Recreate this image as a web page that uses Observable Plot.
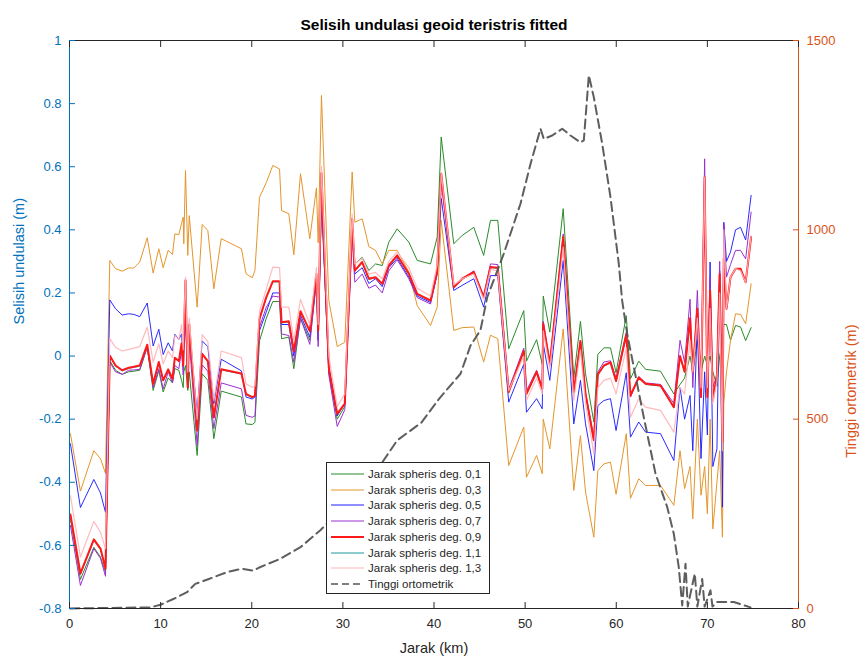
<!DOCTYPE html>
<html><head><meta charset="utf-8">
<script src="https://cdn.jsdelivr.net/npm/d3@7"></script>
<script src="https://cdn.jsdelivr.net/npm/@observablehq/plot@0.6"></script>
<style>
body{margin:0;background:#fff;font-family:"Liberation Sans",Arial,sans-serif;}
#wrap{position:relative;width:866px;height:659px;}
#legend{position:absolute;left:326px;top:462px;width:164px;height:132px;border:1px solid #262626;background:#fff;box-sizing:border-box;}
#legend .row{position:absolute;left:0;height:14px;display:flex;align-items:center;font-size:11.5px;color:#262626;white-space:nowrap;}
#legend svg{margin-left:4px;margin-right:4px;}
</style></head><body><div id="wrap"><div id="legend"></div></div>
<script>
const jarak = [0.1,1.2,2.67,3.4,3.95,4.42,5.05,5.78,6.5,7.06,7.71,8.53,9.18,9.8,10.28,10.83,11.3,11.56,12.0,12.3,12.48,12.54,12.73,12.98,13.14,14.01,14.56,15.18,15.84,16.65,18.87,19.37,20.05,20.35,20.85,21.6,22.31,23.05,23.27,24.07,24.62,25.35,26.37,27.1,27.29,27.65,28.46,29.38,30.21,31.02,31.31,32.12,32.85,33.58,34.32,35.04,35.96,37.24,38.16,39.62,40.35,40.79,42.17,43.09,44.37,45.45,46.2,47.0,48.2,49.85,50.15,51.26,51.88,51.99,52.71,54.18,55.34,56.07,56.63,57.54,57.98,58.64,59.37,59.98,61.1,61.56,62.47,63.21,64.86,66.32,67.0,67.5,68.1,68.4,68.9,69.3,69.7,70.0,70.3,70.6,71.05,71.35,71.65,71.8,72.1,72.54,73.09,73.64,74.2,74.8];

const deg01 = [-0.515,-0.708,-0.606,-0.637,-0.685, -0.014,-0.045,-0.058,-0.05,-0.048, -0.045,0.028,-0.109,-0.046,-0.114, -0.069,-0.085,-0.04,-0.045,-0.077, -0.1,-0.05,-0.03,-0.109,-0.05, -0.315,-0.056,-0.077,-0.262,-0.111, -0.13,-0.215,-0.217,-0.21,0.048, 0.12,0.173,0.173,0.055,0.06, -0.04,0.12,0.05,0.24,0.05, 0.5,-0.05,-0.2,-0.16,0.42, 0.292,0.313,0.271,0.292,0.287, 0.361,0.403,0.361,0.303,0.292, 0.377,0.694,0.356,0.382,0.408, 0.319,0.43,0.43,0.023,0.144, -0.016,0.052,-0.026,0.19,0.076, 0.467,-0.069,0.11,-0.056,-0.209, 0.005,0.026,0.026,-0.053,0.128, -0.072,-0.016,-0.042,-0.048,-0.12, -0.09,-0.07,0.0,-0.05,0.05, -0.05,0.0,-0.03,0.0,-0.05, -0.095,0.0,0.05,0.1,0.1, 0.05,0.097,0.092,0.049,0.09];
const deg03 = [-0.246,-0.428,-0.30,-0.325,-0.372, 0.303,0.277,0.269,0.279,0.279, 0.298,0.375,0.263,0.34,0.28, 0.335,0.322,0.387,0.385,0.421, 0.44,0.356,0.588,0.319,0.445, 0.155,0.417,0.398,0.213,0.372, 0.34,0.261,0.248,0.271,0.503, 0.55,0.604,0.593,0.461,0.451, 0.321,0.578,0.372,0.533,0.359, 0.826,0.176,0.03,0.044,0.583, 0.424,0.435,0.347,0.335,0.292, 0.335,0.335,0.266,0.16,0.097, 0.155,0.43,0.081,0.09,0.092, -0.019,0.066,0.055,-0.347,-0.225, -0.384,-0.315,-0.373,-0.2,-0.294, 0.086,-0.426,-0.252,-0.431,-0.574, -0.363,-0.342,-0.336,-0.438,-0.246, -0.451,-0.389,-0.41,-0.41,-0.473, -0.3,-0.42,-0.35,-0.516,-0.2, -0.441,-0.35,-0.5,-0.2,-0.548, -0.4,-0.3,-0.574,-0.15,-0.05, 0.05,0.134,0.132,0.102,0.229];
const deg05 = [-0.278,-0.48,-0.391,-0.434,-0.495, 0.178,0.15,0.13,0.134,0.132, 0.125,0.168,0.032,0.085,0.005, 0.042,0.016,0.069,0.053,0.07, -0.02,0.03,0.1,-0.03,0.08, -0.18,0.048,0.03,-0.151,-0.01, -0.047,-0.13,-0.136,-0.13,0.08, 0.14,0.2,0.2,0.1,0.1, 0.0,0.13,0.06,0.24,0.05, 0.5,-0.05,-0.19,-0.15,0.4, 0.26,0.28,0.23,0.245,0.22, 0.28,0.31,0.25,0.19,0.17, 0.26,0.5,0.208,0.224,0.245, 0.155,0.255,0.255,-0.146,-0.026, -0.178,-0.135,-0.167,0.039,-0.077, 0.303,-0.215,-0.077,-0.215,-0.363, -0.157,-0.141,-0.135,-0.236,-0.053, -0.257,-0.209,-0.241,-0.246,-0.331, -0.1,-0.2,-0.125,-0.3,0.1, -0.325,-0.05,-0.25,0.298,-0.35, -0.294,0.27,-0.479,0.424,0.3, 0.33,0.4,0.408,0.368,0.509];
const deg07 = [-0.537,-0.727,-0.61,-0.641,-0.698, -0.019,-0.05,-0.058,-0.045,-0.044, -0.042,0.028,-0.1,-0.04,-0.104, -0.05,-0.085,-0.03,-0.04,0.02, -0.06,0.0,0.15,-0.1,0.05, -0.284,-0.028,-0.048,-0.23,-0.085, -0.104,-0.188,-0.194,-0.19,0.092, 0.155,0.19,0.187,0.07,0.065, -0.02,0.12,0.037,0.24,0.03, 0.52,-0.06,-0.223,-0.17,0.38, 0.234,0.26,0.215,0.225,0.2, 0.27,0.305,0.245,0.185,0.165, 0.26,0.55,0.22,0.245,0.27, 0.19,0.292,0.29,-0.105,0.025, -0.11,-0.045,-0.1,0.11,-0.02, 0.387,-0.11,0.05,-0.115,-0.257, -0.05,-0.019,-0.015,-0.07,0.075, -0.13,-0.065,-0.085,-0.09,-0.15, 0.05,-0.02,0.18,-0.1,0.208, -0.1,0.625,-0.1,0.25,-0.1, -0.06,0.3,-0.2,0.42,0.25, 0.29,0.335,0.335,0.308,0.456];
const deg09 = [-0.502,-0.689,-0.581,-0.61,-0.673, 0.002,-0.03,-0.045,-0.037,-0.034, -0.03,0.036,-0.088,-0.019,-0.077, -0.042,-0.072,-0.005,-0.016,0.04, -0.03,0.05,0.24,-0.1,0.1, -0.236,0.007,-0.016,-0.194,-0.042, -0.055,-0.12,-0.13,-0.125,0.118, 0.187,0.237,0.237,0.107,0.11, 0.016,0.142,0.079,0.26,0.08, 0.58,-0.037,-0.183,-0.151,0.435, 0.271,0.298,0.245,0.25,0.229, 0.287,0.319,0.261,0.197,0.176, 0.27,0.578,0.218,0.245,0.266, 0.187,0.282,0.28,-0.114,0.016, -0.12,-0.05,-0.104,0.102,-0.026, 0.377,-0.114,0.048,-0.12,-0.267, -0.058,-0.03,-0.02,-0.079,0.068, -0.125,-0.068,-0.088,-0.093,-0.162, 0.0,-0.05,0.12,-0.05,0.15, -0.13,0.567,-0.13,0.208,-0.14, -0.06,0.26,-0.27,0.31,0.15, 0.25,0.277,0.277,0.234,0.377];
const deg11 = [-0.505,-0.692,-0.584,-0.613,-0.676, 0.0,-0.032,-0.047,-0.039,-0.036, -0.032,0.034,-0.09,-0.021,-0.079, -0.044,-0.074,-0.007,-0.018,0.038, -0.032,0.048,0.238,-0.102,0.098, -0.238,0.005,-0.018,-0.196,-0.044, -0.057,-0.122,-0.132,-0.127,0.116, 0.185,0.235,0.235,0.105,0.108, 0.014,0.14,0.077,0.258,0.078, 0.578,-0.039,-0.185,-0.153,0.433, 0.269,0.296,0.243,0.248,0.227, 0.285,0.317,0.259,0.195,0.174, 0.268,0.576,0.216,0.243,0.264, 0.185,0.28,0.278,-0.116,0.014, -0.122,-0.052,-0.106,0.1,-0.028, 0.375,-0.116,0.046,-0.122,-0.269, -0.06,-0.032,-0.022,-0.081,0.066, -0.127,-0.07,-0.09,-0.095,-0.164, -0.002,-0.052,0.118,-0.052,0.148, -0.132,0.565,-0.132,0.206,-0.142, -0.062,0.258,-0.272,0.308,0.148, 0.248,0.275,0.275,0.232,0.375];
const deg13 = [-0.442,-0.637,-0.524,-0.558,-0.61, 0.055,0.028,0.016,0.021,0.025, 0.03,0.092,-0.019,0.039,-0.025, 0.016,-0.005,0.065,0.053,0.1, 0.02,0.1,0.25,-0.05,0.12, -0.2,0.068,0.046,-0.141,0.016, -0.005,-0.088,-0.099,-0.095,0.142, 0.213,0.282,0.28,0.155,0.155, 0.05,0.18,0.1,0.28,0.1, 0.6,0.0,-0.16,-0.12,0.45, 0.292,0.31,0.26,0.265,0.245, 0.3,0.33,0.28,0.215,0.19, 0.29,0.58,0.225,0.245,0.26, 0.18,0.275,0.27,-0.11,0.0, -0.14,-0.07,-0.12,0.08,-0.04, 0.345,-0.14,0.02,-0.15,-0.31, -0.1,-0.077,-0.07,-0.12,0.026, -0.194,-0.135,-0.162,-0.172,-0.241, -0.1,-0.12,0.05,-0.05,0.12, -0.1,0.567,-0.1,0.15,-0.15, -0.08,0.2,-0.3,0.4,0.15, 0.25,0.277,0.27,0.234,0.38];

const jarakH = [0.1,8.9,10.0,11.4,12.9,13.8,15.3,17.3,18.9,20.2,20.9,23.1,25.35,27.5,29.7,31.9,34.1,35.96,38.16,38.52,40.6,42.91,44.0,45.1,45.84,47.66,49.49,50.59,51.69,52.05,52.97,54.07,54.98,56.08,56.44,56.99,57.54,58.46,59.37,60.28,60.65,61.2,61.93,63.02,64.31,65.59,66.32,66.86,67.24,67.6,67.85,68.15,68.62,68.9,69.43,69.7,70.34,70.56,71.08,72.9,74.73];
const tinggi = [0,3,10,25,43,65,78,96,105,100,109,131,162,206,259,307,378,444,483,488,555,620,694,735,822,937,1069,1174,1267,1240,1249,1267,1249,1231,1236,1408,1350,1227,1086,910,813,725,637,505,356,268,197,109,8,118,5,40,92,5,78,5,48,5,17,17,3];

const names = ["Jarak spheris deg. 0,1","Jarak spheris deg. 0,3","Jarak spheris deg. 0,5","Jarak spheris deg. 0,7","Jarak spheris deg. 0,9","Jarak spheris deg. 1,1","Jarak spheris deg. 1,3"];
const heightName = "Tinggi ortometrik";
const xTicks = [0,10,20,30,40,50,60,70,80];
const yTicks = [-0.8,-0.6,-0.4,-0.2,0,0.2,0.4,0.6,0.8,1];
const hTicks = [0,500,1000,1500];

const seriesStyle = [
  {v: deg01, color: "#2B8A2B", w: 1, o: 1},
  {v: deg03, color: "#E5952B", w: 1, o: 1},
  {v: deg05, color: "#1F1FFF", w: 1, o: 0.95},
  {v: deg07, color: "#9B30D0", w: 1, o: 1},
  {v: deg09, color: "#FF1A1A", w: 2, o: 1},
  {v: deg11, color: "#1A9A9A", w: 1, o: 1},
  {v: deg13, color: "#FFB3B8", w: 1.2, o: 0.9}
];
const drawOrder = [5, 0, 1, 2, 3, 4, 6];

const yMin = -0.8, yMax = 1, hMax = 1500;
const h2v = h => yMin + h * (yMax - yMin) / hMax;
const v2h = v => Math.round((v - yMin) * hMax / (yMax - yMin));

const marks = [];
for (const k of drawOrder) {
  const s = seriesStyle[k];
  marks.push(Plot.line(jarak, {x: d => d, y: (d, i) => s.v[i], stroke: s.color, strokeWidth: s.w, strokeOpacity: s.o}));
}
marks.push(Plot.line(jarakH, {x: d => d, y: (d, i) => h2v(tinggi[i]), stroke: "#555", strokeWidth: 2, strokeDasharray: "9,5", strokeOpacity: 0.95}));
marks.push(Plot.ruleY([yMax], {stroke: "#262626", strokeWidth: 1}));
marks.push(Plot.ruleY([yMin], {stroke: "#262626", strokeWidth: 1}));
marks.push(Plot.ruleX([0], {stroke: "#0072BD", strokeWidth: 1}));
marks.push(Plot.ruleX([80], {stroke: "#D95319", strokeWidth: 1}));
marks.push(Plot.axisX(xTicks, {anchor: "bottom", tickSize: -6, tickPadding: 16, color: "#262626", fontSize: 13, label: null, tickFormat: d => String(d)}));
marks.push(Plot.axisX(xTicks, {anchor: "top", tickSize: -6, tickPadding: 0, color: "#262626", label: null, tickFormat: () => ""}));
marks.push(Plot.axisY(yTicks, {anchor: "left", tickSize: -6, tickPadding: 14, color: "#0072BD", fontSize: 13, label: null, tickFormat: d => String(d)}));
marks.push(Plot.axisY(hTicks.map(h2v), {anchor: "right", tickSize: -6, tickPadding: 14, color: "#D95319", fontSize: 13, label: null, tickFormat: d => String(v2h(d))}));
marks.push(Plot.text(["Selisih undulasi geoid teristris fitted"], {frameAnchor: "top", dy: -22, fontWeight: "bold", fontSize: 15.5, fill: "#000"}));
marks.push(Plot.text(["Selisih undulasi (m)"], {frameAnchor: "left", rotate: -90, dx: -50, fontSize: 14.5, fill: "#0072BD"}));
marks.push(Plot.text(["Tinggi ortometrik (m)"], {frameAnchor: "right", rotate: -90, dx: 53, fontSize: 14.5, fill: "#D95319"}));
marks.push(Plot.text(["Jarak (km)"], {frameAnchor: "bottom", dy: 44, fontSize: 14.5, fill: "#262626"}));

const chart = Plot.plot({
  width: 866, height: 659,
  marginLeft: 69, marginRight: 68, marginTop: 40, marginBottom: 51,
  x: {domain: [0, 80]},
  y: {domain: [yMin, yMax]},
  style: {fontFamily: "'Liberation Sans', Arial, sans-serif", background: "white", overflow: "visible"},
  marks
});
const wrap = document.getElementById("wrap");
wrap.insertBefore(chart, wrap.firstChild);

// legend
const legend = document.getElementById("legend");
const rowsTop = [4, 19.7, 35.4, 51.1, 66.8, 82.6, 98.3, 114];
names.forEach((n, k) => {
  const s = seriesStyle[k];
  const row = document.createElement("div");
  row.className = "row";
  row.style.top = rowsTop[k] + "px";
  row.innerHTML = `<svg width="33" height="14"><line x1="0" x2="33" y1="7" y2="7" stroke="${s.color}" stroke-width="${s.w}"/></svg><span></span>`;
  row.querySelector("span").textContent = n;
  legend.appendChild(row);
});
const hr = document.createElement("div");
hr.className = "row";
hr.style.top = rowsTop[7] + "px";
hr.innerHTML = `<svg width="33" height="14"><line x1="0" x2="33" y1="7" y2="7" stroke="#555" stroke-width="1.5" stroke-dasharray="7,4"/></svg><span></span>`;
hr.querySelector("span").textContent = heightName;
legend.appendChild(hr);
</script>
</body></html>
